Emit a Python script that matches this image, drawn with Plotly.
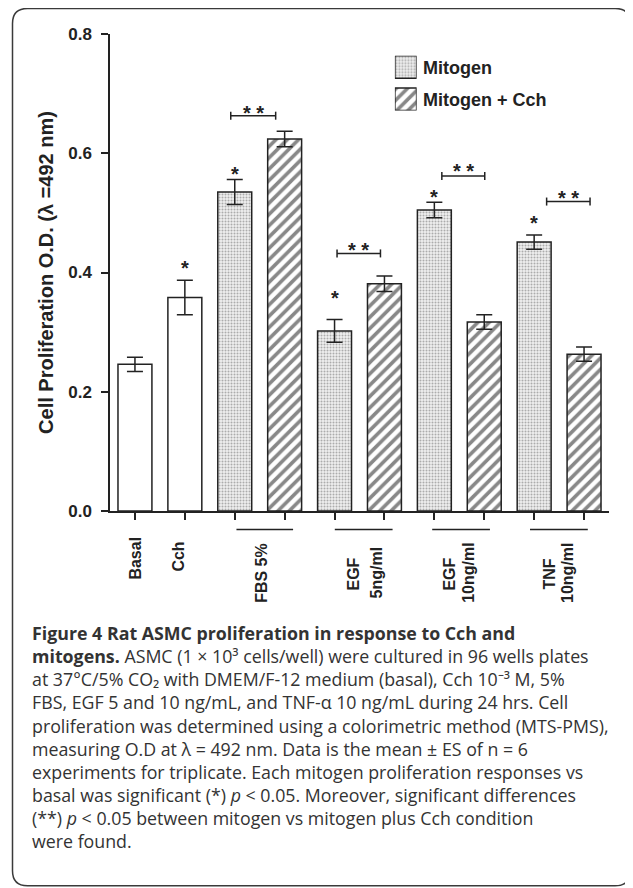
import plotly.graph_objects as go

# ---------------- data ----------------
categories = ["Basal", "Cch", "FBS 5%", "FBS 5% + Cch", "EGF 5ng/ml", "EGF 5ng/ml + Cch",
              "EGF 10ng/ml", "EGF 10ng/ml + Cch", "TNF 10ng/ml", "TNF 10ng/ml + Cch"]

control_cats = ["Basal", "Cch"]
control_vals = [0.246, 0.358]
control_err = [0.012, 0.029]

mitogen_cats = ["FBS 5%", "EGF 5ng/ml", "EGF 10ng/ml", "TNF 10ng/ml"]
mitogen_vals = [0.535, 0.302, 0.505, 0.451]
mitogen_err = [0.021, 0.019, 0.013, 0.012]

cch_cats = ["FBS 5% + Cch", "EGF 5ng/ml + Cch", "EGF 10ng/ml + Cch", "TNF 10ng/ml + Cch"]
cch_vals = [0.624, 0.381, 0.317, 0.263]
cch_err = [0.013, 0.013, 0.012, 0.012]

# significance vs basal (*)
star_cats = ["Cch", "FBS 5%", "EGF 5ng/ml", "EGF 10ng/ml", "TNF 10ng/ml"]
star_y = [0.416, 0.574, 0.366, 0.535, 0.491]

# mitogen vs mitogen + Cch (**)
bracket_x0 = [1.92, 4.05, 6.15, 8.25]
bracket_x1 = [2.82, 4.92, 7.01, 9.12]
bracket_y = [0.663, 0.432, 0.562, 0.519]
bracket_star_y = [0.676, 0.4465, 0.578, 0.534]

y_ticks = [0.0, 0.2, 0.4, 0.6, 0.8]
y_title = "Cell Proliferation O.D. (λ =492 nm)"
legend_names = ["Mitogen", "Mitogen + Cch"]

# x-axis label lines (rotated) and group underline extents (category units)
xlabel_lines = ["Basal", "Cch", "FBS 5%", "EGF", "5ng/ml", "EGF", "10ng/ml", "TNF", "10ng/ml"]
xlabel_x = [0.01, 0.854, 2.535, 4.373, 4.838, 6.312, 6.693, 8.30, 8.67]
xlabel_ypx = [557.8, 556.7, 572, 574, 571.7, 573.3, 572.5, 574, 573]
group_line_x0 = [2.034, 4.005, 5.957, 7.917]
group_line_x1 = [3.169, 5.163, 7.114, 9.075]

caption_lines = [
    "<b>Figure 4 Rat ASMC proliferation in response to Cch and</b>",
    "<b>mitogens.</b> ASMC (1 × 10³ cells/well) were cultured in 96 wells plates",
    "at 37°C/5% CO₂ with DMEM/F-12 medium (basal), Cch 10⁻³ M, 5%",
    "FBS, EGF 5 and 10 ng/mL, and TNF-α 10 ng/mL during 24 hrs. Cell",
    "proliferation was determined using a colorimetric method (MTS-PMS),",
    "measuring O.D at λ = 492 nm. Data is the mean ± ES of n = 6",
    "experiments for triplicate. Each mitogen proliferation responses vs",
    "basal was significant (*) <i>p</i> &lt; 0.05. Moreover, significant differences",
    "(**) <i>p</i> &lt; 0.05 between mitogen vs mitogen plus Cch condition",
    "were found.",
]

# ---------------- layout geometry ----------------
# The page body has an 8 px margin, so the figure is drawn 8 px smaller and
# every reference page pixel is converted with that offset.
OFF = 8
W, H = 633 - OFF, 888 - OFF
PL, PR, PT, PB = 110.4, 608.9, 34.3, 510.7   # plot area in page pixels


def px_x(px):
    return (px - PL) / (PR - PL)


def px_y(py):
    return (PB - py) / (PB - PT)


DATA_PER_PX = 0.8 / (PB - PT)

INK = "#222222"
AX_FONT = "Liberation Sans, Arial, sans-serif"

dots = dict(shape=".", size=3.0, solidity=0.35, fgcolor="#6a6a6a", bgcolor="#eeeeee")
hatch = dict(shape="/", size=8, solidity=0.45, fgcolor="#111111", bgcolor="#ffffff")

fig = go.Figure()

err_style = dict(type="data", visible=True, color=INK, thickness=1.5, width=8)

fig.add_trace(go.Bar(
    x=control_cats, y=control_vals, name="Control",
    error_y=dict(array=control_err, **err_style),
    marker=dict(color="white", line=dict(color=INK, width=1.5)),
    width=0.68, showlegend=False,
))
fig.add_trace(go.Bar(
    x=mitogen_cats, y=mitogen_vals, name=legend_names[0],
    error_y=dict(array=mitogen_err, **err_style),
    marker=dict(color="#eeeeee", pattern=dots, line=dict(color=INK, width=1.5)),
    width=0.68, showlegend=False,
))
fig.add_trace(go.Bar(
    x=cch_cats, y=cch_vals, name=legend_names[1],
    error_y=dict(array=cch_err, **err_style),
    marker=dict(color="white", pattern=hatch, line=dict(color=INK, width=1.5)),
    width=0.68, showlegend=False,
))

# custom legend swatches (larger than native legend symbols)
fig.add_trace(go.Bar(
    x=[1], y=[0], base=[0], orientation="h", width=0.693, xaxis="x2", yaxis="y2",
    marker=dict(color="#eeeeee", pattern=dots, line=dict(color=INK, width=1.5)),
    showlegend=False, hoverinfo="skip", name=legend_names[0],
))
fig.add_trace(go.Bar(
    x=[1], y=[1], base=[0], orientation="h", width=0.693, xaxis="x2", yaxis="y2",
    marker=dict(color="white", pattern=hatch, line=dict(color=INK, width=1.5)),
    showlegend=False, hoverinfo="skip", name=legend_names[1],
))

annotations = []
shapes = []

# single stars
for c, yv in zip(star_cats, star_y):
    annotations.append(dict(x=c, y=yv, xref="x", yref="y", text="<b>*</b>", showarrow=False,
                            xanchor="center", yanchor="middle", yshift=-5,
                            font=dict(family=AX_FONT, size=20, color=INK)))

# brackets with double stars
tick_h = 4 * DATA_PER_PX
for x0, x1, yb, ys in zip(bracket_x0, bracket_x1, bracket_y, bracket_star_y):
    line = dict(color=INK, width=1.5)
    shapes.append(dict(type="line", xref="x", yref="y", x0=x0, x1=x1, y0=yb, y1=yb, line=line))
    shapes.append(dict(type="line", xref="x", yref="y", x0=x0, x1=x0, y0=yb - tick_h, y1=yb + tick_h, line=line))
    shapes.append(dict(type="line", xref="x", yref="y", x0=x1, x1=x1, y0=yb - tick_h, y1=yb + tick_h, line=line))
    annotations.append(dict(x=(x0 + x1) / 2, y=ys, xref="x", yref="y", text="<b>* *</b>", showarrow=False,
                            xanchor="center", yanchor="middle", yshift=-5,
                            font=dict(family=AX_FONT, size=20, color=INK)))

# group underlines below the axis
for x0, x1 in zip(group_line_x0, group_line_x1):
    shapes.append(dict(type="line", xref="x", yref="paper", x0=x0, x1=x1,
                       y0=px_y(529.3), y1=px_y(529.3), line=dict(color=INK, width=1.5)))

# rotated x labels
for t, xv, ypx in zip(xlabel_lines, xlabel_x, xlabel_ypx):
    annotations.append(dict(x=xv, y=px_y(ypx), xref="x", yref="paper", text="<b>%s</b>" % t,
                            showarrow=False, textangle=-90, xanchor="center", yanchor="middle",
                            font=dict(family=AX_FONT, size=16, color=INK)))

# legend labels
for name, ypx in zip(legend_names, [68.0, 100.5]):
    annotations.append(dict(x=px_x(421.0), y=px_y(ypx), xref="paper", yref="paper",
                            text="<b>%s</b>" % name, showarrow=False, xanchor="left", yanchor="middle",
                            font=dict(family=AX_FONT, size=18, color=INK)))

# caption
annotations.append(dict(x=px_x(30.0), y=px_y(619.0), xref="paper", yref="paper",
                        text="<br>".join(caption_lines), showarrow=False, align="left",
                        xanchor="left", yanchor="top",
                        font=dict(family="'Open Sans', sans-serif", size=17.8, color="#333333")))

# rounded outer frame
fx0, fx1, fy0, fy1 = px_x(13), px_x(630), px_y(885), px_y(8.8)
rx = 15 / (PR - PL)
ry = 15 / (PB - PT)
frame_path = (
    f"M {fx0 + rx},{fy1} L {fx1 - rx},{fy1} Q {fx1},{fy1} {fx1},{fy1 - ry} "
    f"L {fx1},{fy0 + ry} Q {fx1},{fy0} {fx1 - rx},{fy0} "
    f"L {fx0 + rx},{fy0} Q {fx0},{fy0} {fx0},{fy0 + ry} "
    f"L {fx0},{fy1 - ry} Q {fx0},{fy1} {fx0 + rx},{fy1} Z"
)
shapes.append(dict(type="path", xref="paper", yref="paper", path=frame_path,
                   line=dict(color="#3a3a3a", width=1.5), fillcolor="rgba(0,0,0,0)", layer="below"))

fig.update_layout(
    width=W, height=H,
    margin=dict(l=PL - OFF, r=W - (PR - OFF), t=PT - OFF, b=H - (PB - OFF), autoexpand=False),
    paper_bgcolor="white", plot_bgcolor="white",
    barmode="overlay", showlegend=False,
    xaxis=dict(type="category", categoryorder="array", categoryarray=categories,
               range=[-0.5, 9.5], showticklabels=False, ticks="outside", ticklen=7,
               tickwidth=1.5, tickcolor=INK, showline=True, linecolor=INK, linewidth=1.5,
               showgrid=False, zeroline=False, fixedrange=True),
    yaxis=dict(range=[0, 0.8], tickvals=y_ticks, tickformat=".1f", ticks="outside", ticklen=7,
               tickwidth=1.5, tickcolor=INK, showline=True, linecolor=INK, linewidth=1.5,
               showgrid=False, zeroline=False, fixedrange=True, ticklabelstandoff=6,
               tickfont=dict(family=AX_FONT, size=17, color=INK, weight="bold"),
               title=dict(text="<b>%s</b>" % y_title, standoff=9,
                          font=dict(family=AX_FONT, size=20, color=INK))),
    xaxis2=dict(domain=[px_x(395), px_x(416.7)], range=[0, 1], visible=False, fixedrange=True,
                anchor="y2"),
    yaxis2=dict(domain=[px_y(110.7), px_y(56)], range=[1.3465, -0.3465], visible=False,
                fixedrange=True, anchor="x2"),
    annotations=annotations,
    shapes=shapes,
)

fig.write_html("out.html")
